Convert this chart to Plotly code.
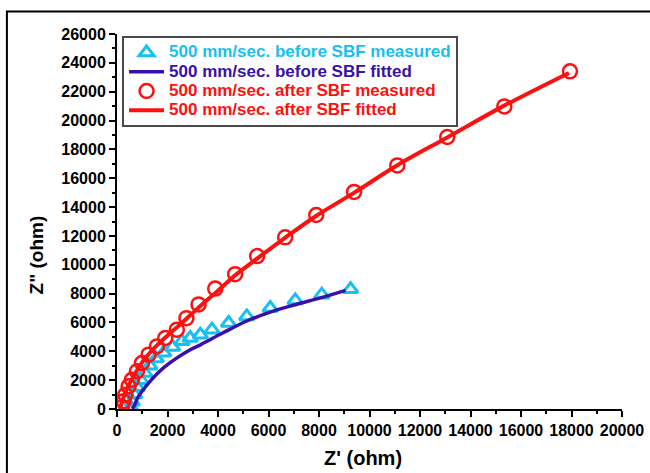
import plotly.graph_objects as go

# Nyquist data, Z' and Z'' in ohm
before_meas_x = [550, 600, 700, 800, 950, 1100, 1300, 1550, 1850, 2200, 2570, 2900, 3300,
                 3760, 4420, 5140, 6070, 7060, 8110, 9250]
before_meas_y = [100, 500, 1000, 1500, 2000, 2500, 3000, 3500, 3900, 4300, 4690, 4920, 5150,
                 5500, 5960, 6420, 7000, 7530, 7930, 8300]

before_fit_x = [600, 660, 850, 1250, 1910, 2900, 3300, 4220, 5140, 6070, 7060, 8050, 9050]
before_fit_y = [0, 140, 870, 1800, 2950, 4110, 4450, 5300, 6100, 6720, 7230, 7700, 8230]

after_meas_x = [200, 260, 330, 460, 590, 790, 990, 1250, 1580, 1910, 2370, 2750, 3230,
                3890, 4680, 5550, 6660, 7890, 9390, 11100, 13080, 15340, 17940]
after_meas_y = [140, 530, 990, 1570, 2030, 2610, 3190, 3770, 4340, 4920, 5500, 6300, 7250,
                8350, 9350, 10600, 11900, 13450, 15050, 16890, 18860, 20980, 23410]

after_fit_x = [120, 200, 300, 450, 600, 800, 1000, 1300, 1600, 2000, 2400, 2900, 3400,
               4000, 4700, 5600, 6600, 7900, 9400, 11100, 13100, 15300, 17900]
after_fit_y = [0, 500, 1000, 1600, 2100, 2700, 3250, 3900, 4450, 5100, 5700, 6500, 7300,
               8200, 9300, 10500, 11800, 13400, 15000, 16900, 18850, 21000, 23300]

x_ticks = list(range(0, 20001, 2000))
y_ticks = list(range(0, 26001, 2000))

CYAN = "#17C0F2"
INDIGO = "#3A10A8"
RED = "#FF1010"
FONT = "Liberation Sans, Arial, sans-serif"


def label(text, color):
    # larger glyphs than the legend's base size keep the rows compact
    return f"<span style='color:{color};font-size:17px'><b>{text}</b></span>"


fig = go.Figure()
fig.add_trace(go.Scatter(
    x=before_meas_x, y=before_meas_y, mode="markers",
    name=label("500 mm/sec. before SBF measured", CYAN),
    marker=dict(symbol="triangle-up-open", size=13, color=CYAN, line=dict(width=3, color=CYAN)),
))
fig.add_trace(go.Scatter(
    x=before_fit_x, y=before_fit_y, mode="lines", line_shape="spline",
    name=label("500 mm/sec. before SBF fitted", INDIGO),
    line=dict(color=INDIGO, width=3.5),
))
fig.add_trace(go.Scatter(
    x=after_meas_x, y=after_meas_y, mode="markers",
    name=label("500 mm/sec. after SBF measured", RED),
    marker=dict(symbol="circle-open", size=14, color=RED, line=dict(width=2.5, color=RED)),
))
fig.add_trace(go.Scatter(
    x=after_fit_x, y=after_fit_y, mode="lines", line_shape="spline",
    name=label("500 mm/sec. after SBF fitted", RED),
    line=dict(color=RED, width=4),
))

axis_common = dict(
    showgrid=False, zeroline=False, showline=True, linecolor="black", linewidth=2,
    ticks="outside", ticklen=6, tickwidth=2, tickcolor="black", automargin=False,
    tickfont=dict(family=FONT, size=16, color="black", weight="bold"),
    minor=dict(ticks="outside", ticklen=3, tickwidth=1.5, tickcolor="black", dtick=1000),
)

fig.update_xaxes(range=[0, 20000], tickvals=x_ticks, ticktext=[str(v) for v in x_ticks],
                 **axis_common)
fig.update_yaxes(range=[0, 26000], tickvals=y_ticks, ticktext=[str(v) for v in y_ticks],
                 **axis_common)

fig.update_layout(
    width=650, height=473,
    margin=dict(l=117, r=28, t=34, b=64),
    paper_bgcolor="white", plot_bgcolor="white",
    font=dict(family=FONT, color="black"),
    legend=dict(
        x=0.01, y=0.995, xanchor="left", yanchor="top",
        bgcolor="white", bordercolor="#4a4a4a", borderwidth=2,
        font=dict(family=FONT, size=12.5),
        tracegroupgap=0, itemwidth=35,
    ),
    annotations=[
        dict(text="<b>Z' (ohm)</b>", xref="paper", yref="paper", x=0.487, y=-0.13,
             xanchor="center", yanchor="middle", showarrow=False,
             font=dict(family=FONT, size=20, color="black")),
        dict(text="<b>Z\" (ohm)</b>", xref="paper", yref="paper", x=-0.16, y=0.41,
             xanchor="center", yanchor="middle", showarrow=False, textangle=-90,
             font=dict(family=FONT, size=19, color="black")),
    ],
    shapes=[
        dict(type="rect", xref="paper", yref="paper", x0=-0.218, y0=-0.4, x1=1.3, y1=1.06,
             line=dict(color="black", width=2), fillcolor="rgba(0,0,0,0)", layer="below"),
    ],
)

fig.write_html("out.html")
